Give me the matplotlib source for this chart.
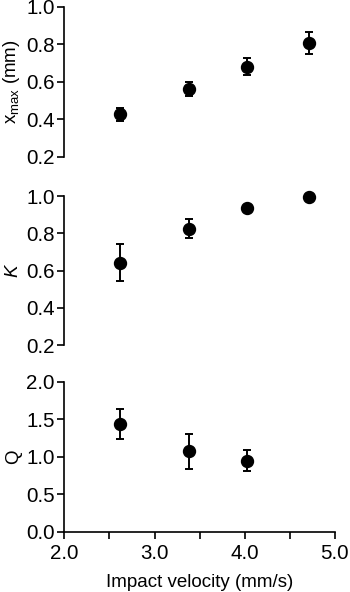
import numpy as np
import matplotlib.pyplot as plt

plt.rcParams['font.family'] = ['Liberation Sans', 'DejaVu Sans']
plt.rcParams['mathtext.fontset'] = 'custom'
plt.rcParams['mathtext.rm'] = 'Liberation Sans'
plt.rcParams['mathtext.it'] = 'Liberation Sans:italic'

# данные
velocity = [2.62, 3.38, 4.03, 4.71]
xmax = [0.428, 0.561, 0.682, 0.806]
xmax_err = [0.035, 0.038, 0.045, 0.058]
kappa = [0.642, 0.825, 0.934, 0.993]
kappa_err = [0.10, 0.05, 0.0, 0.0]
q_vel = velocity[:3]
q_val = [1.44, 1.076, 0.95]
q_err = [0.20, 0.235, 0.14]

fig = plt.figure(figsize=(3.5, 5.92), dpi=100)
W = 0.957 - 0.184
ax1 = fig.add_axes([0.184, 0.7348, W, 0.2534])
ax2 = fig.add_axes([0.184, 0.4172, W, 0.2517])
ax3 = fig.add_axes([0.184, 0.1014, W, 0.2534])

style = dict(fmt='o', color='black', ms=8.6, elinewidth=1.4, capsize=2.6,
             capthick=1.4, clip_on=False)

ax1.errorbar(velocity, xmax, yerr=xmax_err, **style)
ax2.errorbar(velocity, kappa, yerr=kappa_err, **style)
ax3.errorbar(q_vel, q_val, yerr=q_err, **style)

for ax in (ax1, ax2, ax3):
    ax.set_xlim(2.0, 5.0)
    for s in ('top', 'right'):
        ax.spines[s].set_visible(False)
    ax.spines['left'].set_linewidth(1.2)
    ax.spines['bottom'].set_linewidth(1.2)
    ax.tick_params(direction='out', length=5, width=1.2, labelsize=14.8, pad=2)
    ax.yaxis.set_label_coords(-0.155, 0.5)

for ax in (ax1, ax2):
    ax.spines['bottom'].set_visible(False)
    ax.set_xticks([])
    ax.set_ylim(0.2, 1.0)
    ax.set_yticks([0.2, 0.4, 0.6, 0.8, 1.0])
    ax.set_yticklabels(['0.2', '0.4', '0.6', '0.8', '1.0'])

ax3.set_ylim(0.0, 2.0)
ax3.set_yticks([0.0, 0.5, 1.0, 1.5, 2.0])
ax3.set_yticklabels(['0.0', '0.5', '1.0', '1.5', '2.0'])
ax3.set_xticks([2.0, 3.0, 4.0, 5.0])
ax3.set_xticklabels(['2.0', '3.0', '4.0', '5.0'])
ax3.set_xticks([2.5, 3.5, 4.5], minor=True)
ax3.tick_params(axis='x', pad=4)
ax3.tick_params(which='minor', direction='out', length=5, width=1.2)

ax1.set_ylabel(r'$\mathrm{x}_{\mathrm{max}}$ (mm)', fontsize=13.5)
ax2.set_ylabel(r'$K$', fontsize=13.5)
ax3.set_ylabel('Q', fontsize=13.5)
ax3.set_xlabel('Impact velocity (mm/s)', fontsize=13.5, labelpad=7.5)

fig.savefig('out.png', dpi=100)
